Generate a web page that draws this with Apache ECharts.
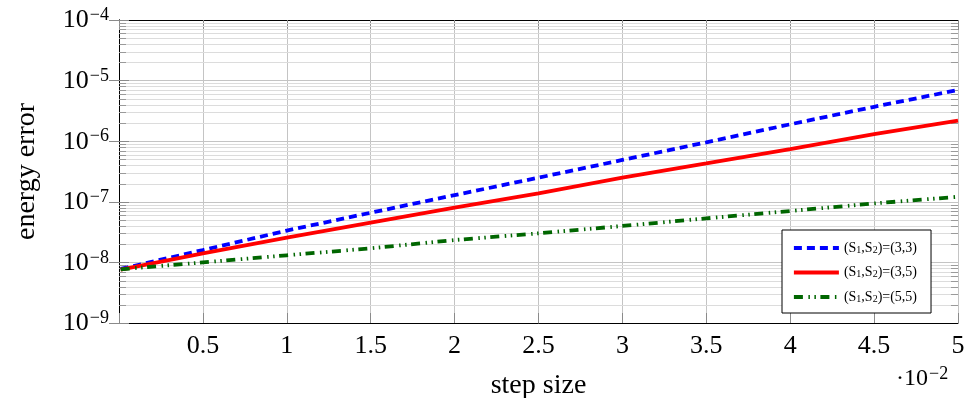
<!DOCTYPE html>
<html>
<head>
<meta charset="utf-8">
<script src="https://cdn.jsdelivr.net/npm/echarts@6/dist/echarts.min.js"></script>
<style>
  html, body { margin: 0; padding: 0; background: #fff; }
  #chart { width: 971px; height: 398px; }
</style>
</head>
<body>
<div id="chart"></div>
<script>
// step size, in units of 1e-2
const stepSizes = [0.01, 0.5, 1, 1.5, 2, 2.5, 3, 3.5, 4, 4.5, 5];

// energy error per scheme
const error33 = [7.8e-9, 1.6e-8, 3.35e-8, 6.6e-8, 1.29e-7, 2.5e-7, 4.9e-7, 9.6e-7, 1.9e-6, 3.7e-6, 7.0e-6];
const error35 = [7.6e-9, 1.41e-8, 2.56e-8, 4.52e-8, 8.0e-8, 1.38e-7, 2.5e-7, 4.3e-7, 7.43e-7, 1.31e-6, 2.18e-6];
const error55 = [7.7e-9, 1.0e-8, 1.31e-8, 1.71e-8, 2.34e-8, 3.02e-8, 3.99e-8, 5.33e-8, 7.05e-8, 9.4e-8, 1.21e-7];

const seriesNames = ['(S1,S2)=(3,3)', '(S1,S2)=(3,5)', '(S1,S2)=(5,5)'];
const legendLabels = [
  '{m|(S}{sub|1}{m|,S}{sub|2}{m|)=(3,3)}',
  '{m|(S}{sub|1}{m|,S}{sub|2}{m|)=(3,5)}',
  '{m|(S}{sub|1}{m|,S}{sub|2}{m|)=(5,5)}'
];

// log axis: decades -9..-5 get minor grid lines at 2..9
const minorDecades = [-9, -8, -7, -6, -5];
const minorMantissas = [2, 3, 4, 5, 6, 7, 8, 9];

const FONT = 'Liberation Serif';

const minorValues = [];
minorDecades.forEach(function (d) {
  minorMantissas.forEach(function (m) {
    minorValues.push([0, m * Math.pow(10, d)]);
  });
});

const chart = echarts.init(document.getElementById('chart'));

function lineSeries(name, values, color, dash) {
  return {
    name: name,
    type: 'line',
    data: stepSizes.map(function (x, i) { return [x, values[i]]; }),
    symbol: 'none',
    showSymbol: false,
    itemStyle: { color: color },
    lineStyle: { color: color, width: 3.8, type: dash },
    z: 3,
    animation: false
  };
}

const option = {
  animation: false,
  grid: { left: 119, right: 13, top: 20, bottom: 75, outerBoundsMode: 'none', containLabel: false },
  legend: {
    data: seriesNames,
    orient: 'vertical',
    left: 782,
    top: 230,
    padding: [9, 14, 9, 10],
    itemGap: 8.5,
    itemWidth: 45,
    itemHeight: 14,
    backgroundColor: '#fff',
    borderColor: '#000',
    borderWidth: 1,
    borderRadius: 0,
    lineStyle: { width: 3.8 },
    itemStyle: { color: 'transparent', borderColor: 'transparent', borderWidth: 0 },
    formatter: function (name) {
      return legendLabels[seriesNames.indexOf(name)];
    },
    textStyle: {
      fontFamily: FONT,
      color: '#000',
      rich: {
        m: { fontFamily: FONT, fontSize: 14, color: '#000', lineHeight: 14, verticalAlign: 'top' },
        sub: { fontFamily: FONT, fontSize: 10, color: '#000', lineHeight: 11, padding: [6, 0, 0, 0], verticalAlign: 'bottom' }
      }
    }
  },
  xAxis: [
    {
      type: 'value',
      min: 0,
      max: 5,
      interval: 0.5,
      position: 'bottom',
      name: 'step size',
      nameLocation: 'middle',
      nameGap: 49,
      nameTextStyle: { fontFamily: FONT, fontSize: 28, color: '#000' },
      axisLine: { show: true, lineStyle: { color: '#000', width: 1 } },
      axisTick: { show: true, inside: true, length: 10, lineStyle: { color: '#8a8a8a' } },
      axisLabel: {
        fontFamily: FONT,
        fontSize: 26,
        color: '#000',
        margin: 10,
        formatter: function (v) { return v === 0 ? '' : String(v); }
      },
      splitLine: { show: true, lineStyle: { color: '#c4c4c4', width: 1 } }
    },
    {
      type: 'value',
      min: 0,
      max: 5,
      interval: 0.5,
      position: 'top',
      axisLine: { show: true, lineStyle: { color: '#000', width: 1 } },
      axisTick: { show: true, inside: true, length: 10, lineStyle: { color: '#8a8a8a' } },
      axisLabel: { show: false },
      splitLine: { show: false }
    }
  ],
  yAxis: [
    {
      type: 'log',
      logBase: 10,
      min: 1e-9,
      max: 1e-4,
      name: 'energy error',
      nameLocation: 'middle',
      nameGap: 78,
      nameRotate: 90,
      nameTextStyle: { fontFamily: FONT, fontSize: 28, color: '#000' },
      axisLine: { show: true, lineStyle: { color: '#000', width: 1 } },
      axisTick: { show: true, inside: true, length: 10, lineStyle: { color: '#8a8a8a' } },
      axisLabel: {
        margin: 10,
        formatter: function (v) {
          const e = Math.round(Math.log10(v));
          return '{b|10}{s|\u2212' + Math.abs(e) + '}';
        },
        rich: {
          b: { fontFamily: FONT, fontSize: 26, color: '#000', lineHeight: 27, verticalAlign: 'bottom', padding: [4, 1, 0, 0] },
          s: { fontFamily: FONT, fontSize: 18, color: '#000', lineHeight: 17, verticalAlign: 'top' }
        }
      },
      splitLine: { show: true, lineStyle: { color: '#c4c4c4', width: 1 } }
    },
    {
      type: 'log',
      logBase: 10,
      min: 1e-9,
      max: 1e-4,
      position: 'right',
      axisLine: { show: true, lineStyle: { color: '#000', width: 1 } },
      axisTick: { show: true, inside: true, length: 10, lineStyle: { color: '#8a8a8a' } },
      axisLabel: { show: false },
      splitLine: { show: false }
    }
  ],
  graphic: [
    {
      type: 'text',
      left: 896,
      top: 365,
      style: {
        text: '{d|\u00b710}{s|\u22122}',
        rich: {
          d: { fontFamily: FONT, fontSize: 24, fill: '#000', lineHeight: 26, verticalAlign: 'bottom', padding: [0, 1, 0, 0] },
          s: { fontFamily: FONT, fontSize: 18, fill: '#000', lineHeight: 16, verticalAlign: 'top' }
        }
      }
    }
  ],
  series: [
    {
      // minor grid lines + minor ticks on the log axis
      type: 'custom',
      silent: true,
      z: 1,
      data: minorValues,
      renderItem: function (params, api) {
        const cs = params.coordSys;
        const y = Math.round(api.coord([0, api.value(1)])[1]) + 0.5;
        const x0 = cs.x;
        const x1 = cs.x + cs.width;
        return {
          type: 'group',
          children: [
            { type: 'line', shape: { x1: x0, y1: y, x2: x1, y2: y }, style: { stroke: '#dcdcdc', lineWidth: 1 } },
            { type: 'line', shape: { x1: x0, y1: y, x2: x0 + 7, y2: y }, style: { stroke: '#9a9a9a', lineWidth: 1 } },
            { type: 'line', shape: { x1: x1 - 7, y1: y, x2: x1, y2: y }, style: { stroke: '#9a9a9a', lineWidth: 1 } }
          ]
        };
      }
    },
    lineSeries(seriesNames[0], error33, '#0000ff', [8, 5]),
    lineSeries(seriesNames[1], error35, '#ff0000', 'solid'),
    lineSeries(seriesNames[2], error55, '#006600', [9, 5.5, 1.5, 4.5, 1.5, 4.5])
  ]
};

chart.setOption(option);
</script>
</body>
</html>
